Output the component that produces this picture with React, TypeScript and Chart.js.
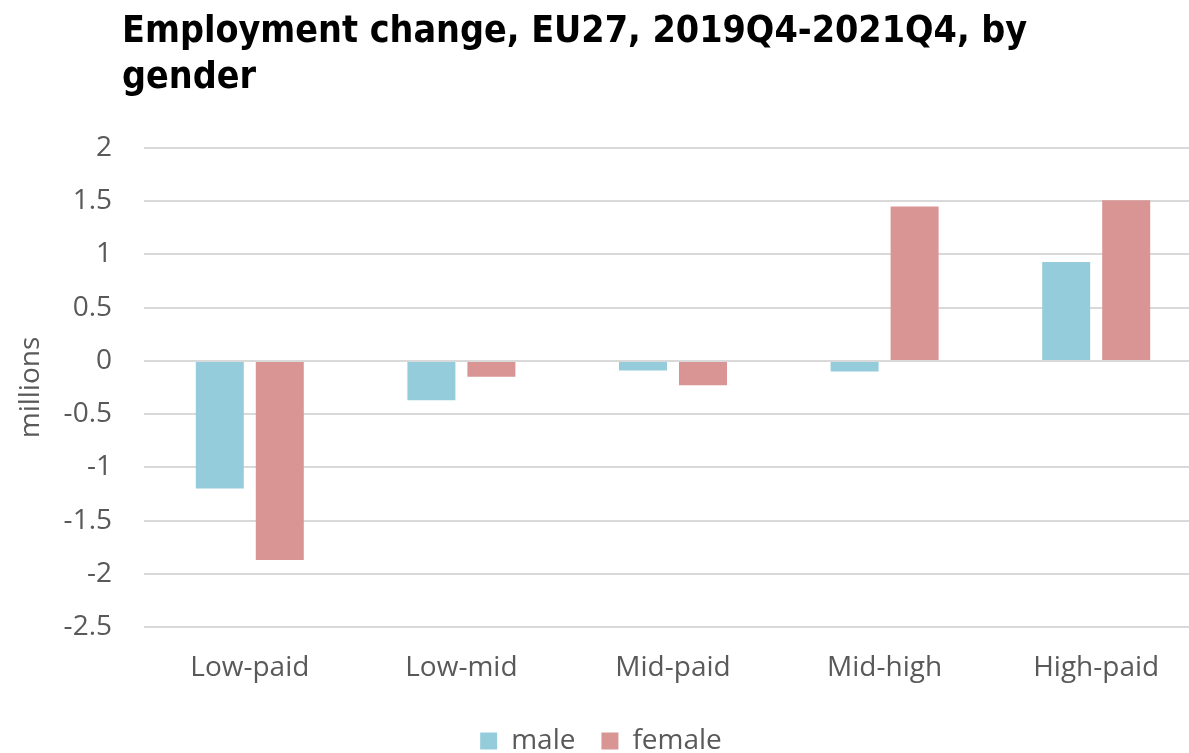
import React, { useEffect, useRef } from "react";
import { Chart, registerables } from "chart.js";

Chart.register(...registerables);

const categories = ["Low-paid", "Low-mid", "Mid-paid", "Mid-high", "High-paid"];
const maleValues = [-1.2, -0.37, -0.09, -0.1, 0.93];
const femaleValues = [-1.87, -0.15, -0.23, 1.45, 1.51];
const seriesNames = ["male", "female"];
const titleText = "Employment change, EU27, 2019Q4-2021Q4, by gender";
const yAxisTitle = "millions";

const MALE_COLOR = "#95CCDC";
const FEMALE_COLOR = "#D99594";
const TEXT_COLOR = "#595959";
const FONT = "'Open Sans', sans-serif";

export default function App() {
  const canvasRef = useRef<HTMLCanvasElement | null>(null);

  useEffect(() => {
    if (!canvasRef.current) return;
    const chart = new Chart(canvasRef.current, {
      type: "bar",
      data: {
        labels: categories,
        datasets: [
          { label: seriesNames[0], data: maleValues, backgroundColor: MALE_COLOR, borderWidth: 0 },
          { label: seriesNames[1], data: femaleValues, backgroundColor: FEMALE_COLOR, borderWidth: 0 },
        ],
      },
      options: {
        animation: false,
        responsive: false,
        maintainAspectRatio: false,
        layout: { padding: { top: 148, bottom: 7, left: 0, right: 0 } },
        datasets: {
          bar: { categoryPercentage: 0.567, barPercentage: 0.8 },
        },
        plugins: {
          tooltip: { enabled: false },
          title: { display: false },
          legend: {
            position: "bottom",
            labels: {
              color: TEXT_COLOR,
              font: { family: FONT, size: 28 },
              boxWidth: 17,
              boxHeight: 17,
              padding: 26,
            },
          },
        },
        scales: {
          x: {
            grid: { display: false, drawTicks: false },
            border: { display: false },
            afterFit: (scale: any) => {
              scale.height = 74;
            },
            ticks: { color: TEXT_COLOR, font: { family: FONT, size: 28 }, padding: 24, maxRotation: 0 },
          },
          y: {
            min: -2.5,
            max: 2,
            afterFit: (scale: any) => {
              scale.width = 144;
            },
            grid: { color: "#d9d9d9", lineWidth: 2, drawTicks: false },
            border: { display: false },
            ticks: {
              stepSize: 0.5,
              color: TEXT_COLOR,
              font: { family: FONT, size: 28 },
              padding: 32,
              callback: (v: any) => String(Number(v)),
            },
            title: {
              display: true,
              text: yAxisTitle,
              color: TEXT_COLOR,
              font: { family: FONT, size: 28 },
              padding: { top: 14, bottom: 0 },
            },
          },
        },
      },
    });
    return () => chart.destroy();
  }, []);

  return (
    <div style={{ position: "absolute", left: 0, top: 0, width: 1189, height: 753, overflow: "hidden", background: "#fff" }}>
      <canvas ref={canvasRef} width={1202} height={772} style={{ position: "absolute", left: 0, top: 0 }} />
      <div
        style={{
          position: "absolute",
          left: 122,
          top: 6,
          width: 1000,
          fontFamily: "'DejaVu Sans Condensed', 'DejaVu Sans', sans-serif",
          fontWeight: "bold",
          fontSize: 37.3,
          lineHeight: "46px",
          color: "#000",
        }}
      >
        {titleText}
      </div>
    </div>
  );
}
